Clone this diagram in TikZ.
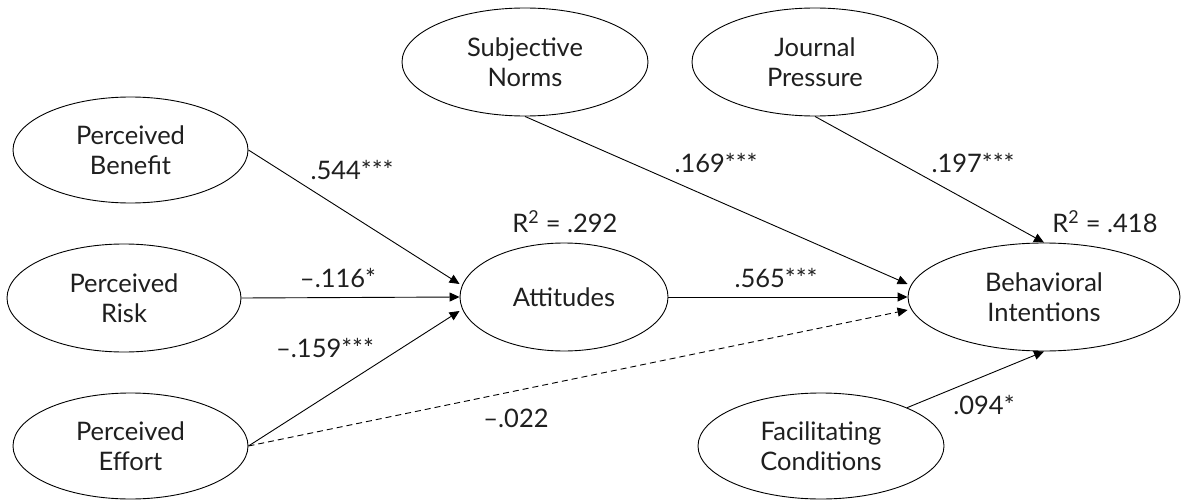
\documentclass[tikz,border=0pt]{standalone}
\usepackage{fontspec}
\setmainfont{Lato}
\usetikzlibrary{shapes.geometric,arrows.meta,calc}
\begin{document}
\begin{tikzpicture}[x=1pt,y=-1pt,
  every node/.style={font=\fontsize{25.5}{30}\selectfont, text=black!88},
  latent/.style={ellipse, draw=black, line width=0.9pt, inner sep=0pt, align=center},
  path/.style={draw=black, line width=0.9pt, -{Triangle[length=10pt,width=9pt]}},
  nspath/.style={path, dash pattern=on 6pt off 4pt},
  coef/.style={inner sep=0pt}]
\useasboundingbox (0,0) rectangle (1183,500);
% latent variables
\node[latent, minimum width=235, minimum height=106] (pb) at (130.5,150) {Perceived\\Benefit};
\node[latent, minimum width=234, minimum height=108] (pr) at (124,298) {Perceived\\Risk};
\node[latent, minimum width=235, minimum height=106] (pe) at (130.5,446) {Perceived\\Effort};
\node[latent, minimum width=208, minimum height=108] (att) at (564,297) {Attitudes};
\node[latent, minimum width=246, minimum height=108] (sn) at (525,62) {Subjective\\Norms};
\node[latent, minimum width=246, minimum height=108] (jp) at (815,62) {Journal\\Pressure};
\node[latent, minimum width=272, minimum height=108] (bi) at (1044,297) {Behavioral\\Intentions};
\node[latent, minimum width=246, minimum height=106] (fc) at (821,446) {Facilitating\\Conditions};
% paths
\draw[path] (pb.east) -- ($(att.west)+(0,-13)$);
\draw[path] (pr.east) -- (att.west);
\draw[path] (pe.east) -- ($(att.west)+(0,14)$);
\draw[nspath] (pe.east) -- ($(bi.west)+(0,13)$);
\draw[path] (sn.south) -- ($(bi.west)+(0,-13)$);
\draw[path] (att.east) -- (bi.west);
\draw[path] (jp.south) -- (bi.north);
\draw[path] (fc.24) -- (bi.south);
% coefficients
\node[coef] (c1) at (352,170) {.544***};
\node[coef] (c2) at (338,278) {–.116*};
\node[coef] (c3) at (325,348) {–.159***};
\node[coef] (c4) at (516,418) {–.022};
\node[coef] (c5) at (776,278) {.565***};
\node[coef] (c6) at (716,163) {.169***};
\node[coef] (c7) at (973,163) {.197***};
\node[coef] (c8) at (984,405) {.094*};
\node[coef] (r1) at (565,222) {R\textsuperscript{2} = .292};
\node[coef] (r2) at (1105,222) {R\textsuperscript{2} = .418};
\end{tikzpicture}
\end{document}
